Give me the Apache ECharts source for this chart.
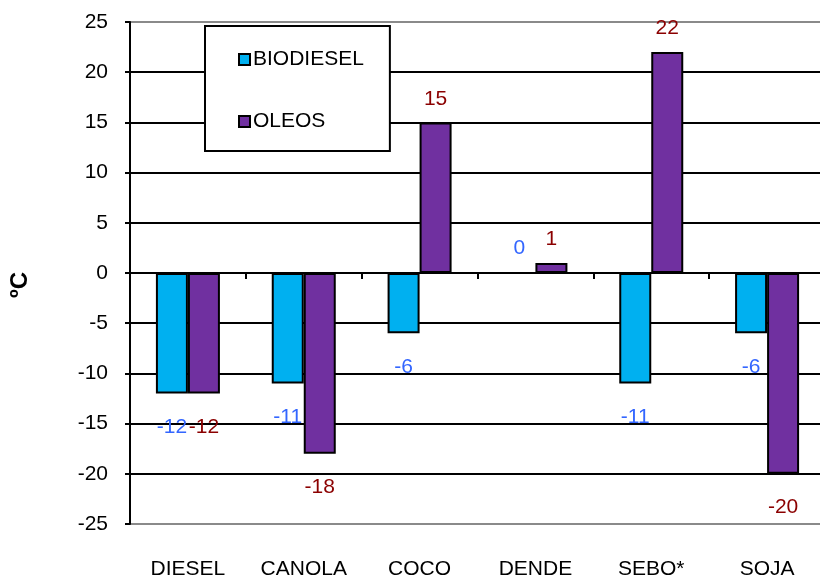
<!DOCTYPE html>
<html>
<head>
<meta charset="utf-8">
<script src="https://cdn.jsdelivr.net/npm/echarts@6/dist/echarts.min.js"></script>
<style>
  html, body { margin: 0; padding: 0; background: #fff; }
  #chart { width: 820px; height: 579px; }
</style>
</head>
<body>
<div id="chart"></div>
<script>
// Cold filter plugging point of biodiesel vs. source oils
const categories = ['DIESEL', 'CANOLA', 'COCO', 'DENDE', 'SEBO*', 'SOJA'];
const biodiesel = [-12, -11, -6, 0, -11, -6];
const oleos = [-12, -18, 15, 1, 22, -20];
const seriesNames = ['BIODIESEL', 'OLEOS'];
const yTicks = { min: -25, max: 25, step: 5 };

const FONT = '"Liberation Sans", Arial, sans-serif';
const FS = 21;

// Negative values get their label below the bar end, the rest above it
function withLabel(v) {
  return {
    value: v,
    label: v < 0
      ? { position: 'bottom', distance: 23 }
      : { position: 'top', distance: 13 }
  };
}

// Split line colours: grey frame at the extremes, black inside
const nLines = (yTicks.max - yTicks.min) / yTicks.step + 1;
const splitColors = [];
for (let i = 0; i < nLines; i++) {
  splitColors.push(i === 0 || i === nLines - 1 ? '#8a8a8a' : '#000');
}

const chart = echarts.init(document.getElementById('chart'), null, { renderer: 'canvas' });
chart.setOption({
  animation: false,
  backgroundColor: '#fff',
  textStyle: { fontFamily: FONT },
  grid: { left: 130, right: -5, top: 22, bottom: 55, outerBoundsMode: 'none', containLabel: false },
  legend: {
    data: seriesNames,
    orient: 'vertical',
    left: 205,
    top: 26,
    padding: [23, 26, 19, 33],
    itemGap: 41,
    itemWidth: 11,
    itemHeight: 11,
    backgroundColor: '#fff',
    borderColor: '#000',
    borderWidth: 2,
    borderRadius: 0,
    icon: 'rect',
    textStyle: { fontFamily: FONT, fontSize: FS, color: '#000', padding: [0, 0, 0, -2] }
  },
  xAxis: [
    {
      type: 'category',
      data: categories,
      position: 'bottom',
      axisLine: { show: false, onZero: false },
      axisTick: { show: false },
      splitLine: { show: false },
      axisLabel: { interval: 0, fontFamily: FONT, fontSize: FS, color: '#000', margin: 35 }
    },
    {
      type: 'category',
      data: categories,
      position: 'bottom',
      axisLine: { show: true, onZero: true, lineStyle: { color: '#000', width: 2 } },
      axisTick: { show: true, inside: false, length: 6, lineStyle: { color: '#000', width: 2 } },
      axisLabel: { show: false },
      splitLine: { show: false }
    }
  ],
  yAxis: {
    type: 'value',
    min: yTicks.min,
    max: yTicks.max,
    interval: yTicks.step,
    axisLine: { show: true, onZero: false, lineStyle: { color: '#000', width: 2 } },
    axisTick: { show: true, length: 5, lineStyle: { color: '#000', width: 2 } },
    axisLabel: { fontFamily: FONT, fontSize: FS, color: '#000', margin: 22 },
    splitLine: { show: true, lineStyle: { color: splitColors, width: 2 } }
  },
  graphic: [
    {
      type: 'text',
      x: 20,
      y: 285,
      rotation: Math.PI / 2,
      style: {
        text: 'ºC',
        font: 'bold 24px ' + FONT,
        fill: '#000',
        align: 'center',
        verticalAlign: 'middle'
      }
    }
  ],
  series: [
    {
      name: seriesNames[0],
      type: 'bar',
      xAxisIndex: 0,
      data: biodiesel.map(withLabel),
      barWidth: 32,
      barGap: '0%',
      itemStyle: { color: '#00B0F0', borderColor: '#000', borderWidth: 2 },
      label: { show: true, fontFamily: FONT, fontSize: FS, color: '#3366FF' }
    },
    {
      name: seriesNames[1],
      type: 'bar',
      xAxisIndex: 0,
      data: oleos.map(withLabel),
      barWidth: 32,
      barGap: '0%',
      itemStyle: { color: '#7030A0', borderColor: '#000', borderWidth: 2 },
      label: { show: true, fontFamily: FONT, fontSize: FS, color: '#8B0000' }
    }
  ]
});
</script>
</body>
</html>
